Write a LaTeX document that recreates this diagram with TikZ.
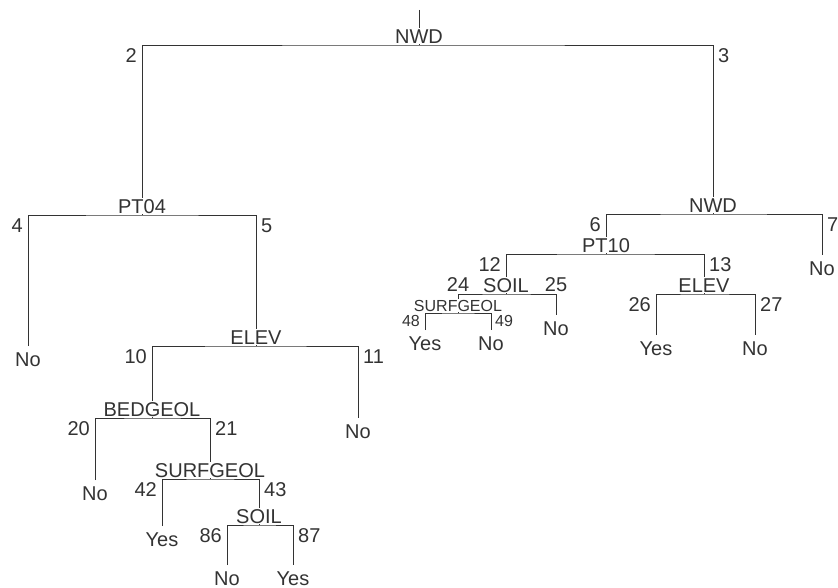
\documentclass[tikz,border=0pt]{standalone}
\usepackage{fontspec}
\setmainfont{Liberation Sans}
\usetikzlibrary{positioning}

\begin{document}
\begin{tikzpicture}[
  x=1pt, y=-1pt,
  branch/.style={draw=black!80, line width=0.9pt},
  split/.style={fill=white, inner sep=1pt, text=black!80, font=\fontsize{20}{24}\selectfont},
  leaf/.style={anchor=base, inner sep=0pt, outer sep=6pt, text=black!80, font=\fontsize{20}{24}\selectfont},
  num/.style={inner sep=0pt, text=black!80, font=\fontsize{20}{24}\selectfont},
  small/.style={font=\fontsize{16}{19}\selectfont},
]
  \useasboundingbox (0,0) rectangle (838,588);

  % split points
  \coordinate (root) at (419,10);
  \foreach \n/\x/\y in {1/419/45, 2/142/215, 5/256/346, 10/152/418, 21/210/479, 43/259/525,
                        3/713/214, 6/606/254, 12/506/294, 24/458/313, 13/704/294}
    \coordinate (t\n) at (\x,\y);

  % leaves
  \foreach \n/\x/\y/\t in {4/28/366/No, 11/358/438/No, 20/95/500/No, 42/162/546/Yes,
                           86/227/585/No, 87/293/585/Yes, 7/822/275/No, 25/556/335/No,
                           48/425/350/Yes, 49/491/350/No, 26/656/355/Yes, 27/755/355/No}
    \node[leaf] (t\n) at (\x,\y) {\t};

  \draw[branch] (root) -- (t1);
  \foreach \l/\p/\r in {2/1/3, 4/2/5, 10/5/11, 20/10/21, 42/21/43, 86/43/87,
                        6/3/7, 12/6/13, 24/12/25, 48/24/49, 26/13/27}
    \draw[branch] (t\l) |- (t\p) -| (t\r);

  % split variables
  \foreach \n/\t in {1/NWD, 2/PT04, 5/ELEV, 10/BEDGEOL, 21/SURFGEOL, 43/SOIL,
                     3/NWD, 6/PT10, 12/SOIL, 13/ELEV}
    \node[split, above=0.6pt of t\n] (v\n) {\t};
  \node[split, small, above=0.6pt of t24] (v24) {SURFGEOL};

  % node numbers
  \foreach \c/\p in {2/1, 4/2, 10/5, 20/10, 42/21, 86/43, 6/3, 12/6, 26/13}
    \node[num, anchor=north east, xshift=-5pt, yshift=-3.5pt] (n\c) at (t\c |- t\p) {\c};
  \foreach \c/\p in {3/1, 5/2, 11/5, 21/10, 43/21, 87/43, 7/3, 13/6, 27/13}
    \node[num, anchor=north west, xshift=5pt, yshift=-3.5pt] (n\c) at (t\c |- t\p) {\c};
  \node[num, small, anchor=north east, xshift=-5pt, yshift=-2.5pt] (n48) at (t48 |- t24) {48};
  \node[num, small, anchor=north west, xshift=4pt, yshift=-2.5pt] (n49) at (t49 |- t24) {49};
  \foreach \c in {24,25}
    \node[num, anchor=south, yshift=2pt] (n\c) at (t\c |- t12) {\c};
\end{tikzpicture}
\end{document}
